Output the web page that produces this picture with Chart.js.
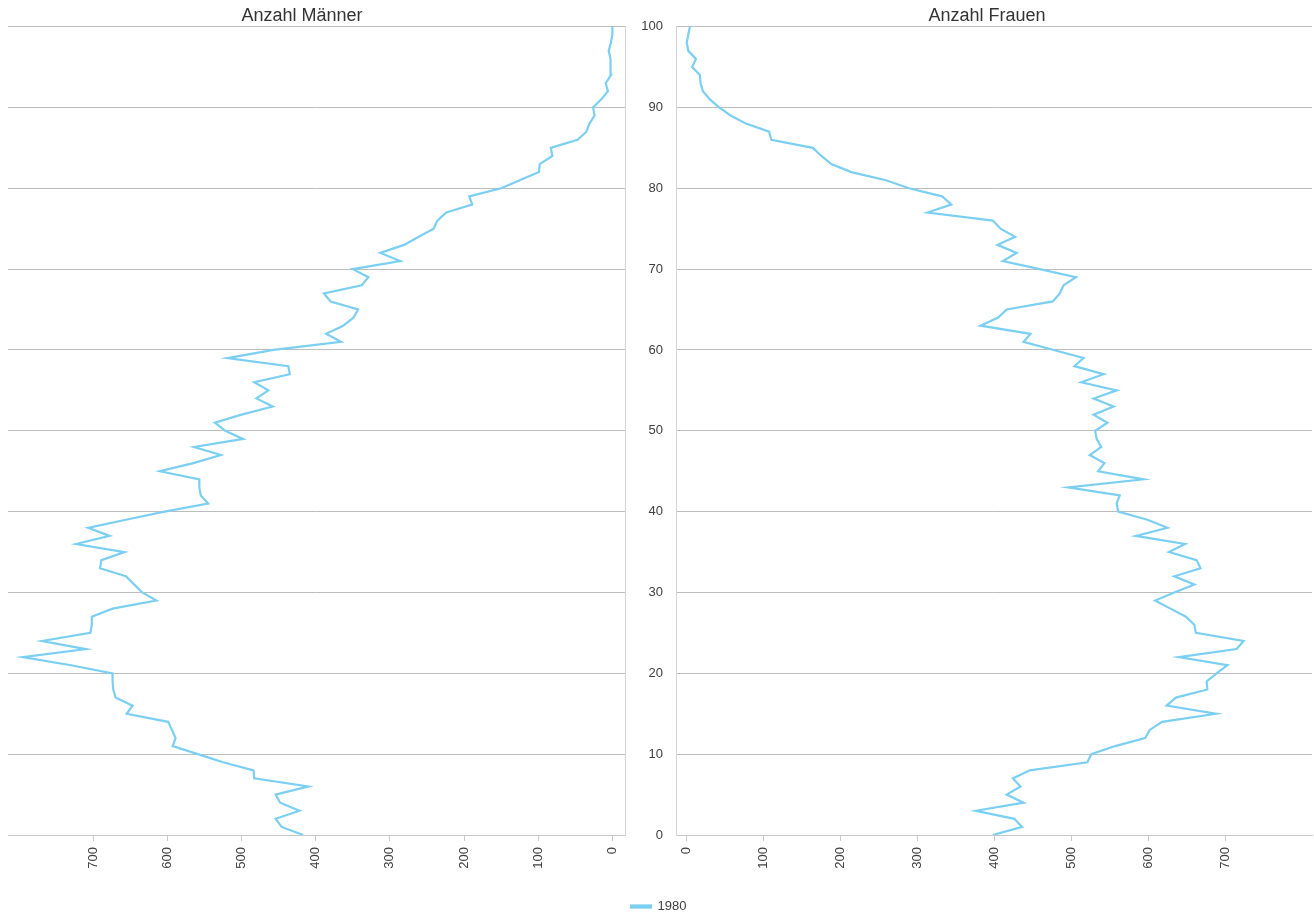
<!DOCTYPE html>
<html lang="de">
<head>
<meta charset="utf-8">
<title>Anzahl Männer und Frauen 1980</title>
<script src="https://cdn.jsdelivr.net/npm/chart.js@4/dist/chart.umd.min.js"></script>
<style>
  body { margin: 0; background: #fff; overflow: hidden; }
  #links { position: absolute; left: -21px; top: 0; }
  #rechts { position: absolute; left: 621px; top: 0; }
</style>
</head>
<body>
<canvas id="links" width="647" height="920"></canvas>
<canvas id="rechts" width="693" height="920"></canvas>
<script>
// Alter (y-Achse)
const alter = [
  0, 1, 2, 3, 4, 5, 6, 7, 8, 9, 10, 11, 12, 13, 14, 15, 16, 17, 18, 19,
  20, 21, 22, 23, 24, 25, 26, 27, 28, 29, 30, 31, 32, 33, 34, 35, 36, 37, 38, 39,
  40, 41, 42, 43, 44, 45, 46, 47, 48, 49, 50, 51, 52, 53, 54, 55, 56, 57, 58, 59,
  60, 61, 62, 63, 64, 65, 66, 67, 68, 69, 70, 71, 72, 73, 74, 75, 76, 77, 78, 79,
  80, 81, 82, 83, 84, 85, 86, 87, 88, 89, 90, 91, 92, 93, 94, 95, 96, 97, 98, 99, 100
];

// Anzahl Männer 1980 je Alter
const maenner1980 = [
  417, 446, 454, 422, 448, 454, 410, 483, 484, 525,
  559, 593, 589, 594, 599, 655, 647, 670, 673, 674,
  674, 730, 795, 710, 769, 704, 702, 702, 674, 615,
  634, 645, 656, 691, 689, 658, 723, 678, 707, 656,
  604, 545, 555, 557, 557, 610, 565, 528, 564, 498,
  522, 536, 500, 458, 480, 464, 483, 435, 437, 519,
  457, 366, 386, 363, 349, 343, 380, 389, 338, 329,
  350, 286, 313, 281, 261, 241, 236, 224, 189, 193,
  150, 125, 99, 98, 81, 83, 47, 35, 31, 24,
  26, 15, 6, 9, 2, 2, 3, 5, 2, 0, 0
];

// Anzahl Frauen 1980 je Alter
const frauen1980 = [
  398, 436, 426, 376, 438, 416, 434, 424, 446, 521,
  526, 557, 596, 602, 618, 688, 624, 636, 677, 676,
  689, 703, 640, 715, 724, 662, 660, 649, 629, 609,
  634, 660, 634, 668, 663, 627, 648, 584, 625, 599,
  561, 559, 563, 496, 594, 535, 543, 524, 539, 533,
  531, 547, 529, 555, 529, 559, 513, 542, 504, 516,
  477, 438, 447, 382, 405, 416, 476, 485, 490, 506,
  459, 411, 429, 404, 427, 408, 398, 313, 344, 332,
  289, 259, 214, 188, 175, 164, 110, 107, 77, 57,
  42, 30, 21, 18, 17, 7, 12, 2, 0, 2, 4
];

const xTicks = [0, 100, 200, 300, 400, 500, 600, 700];
const yTicks = [0, 10, 20, 30, 40, 50, 60, 70, 80, 90, 100];
const jahr = '1980';

const linienFarbe = '#7acff2';
const textFarbe = '#404040';

Chart.defaults.font.family = "'Liberation Sans', Arial, sans-serif";
Chart.defaults.color = textFarbe;

function punkte(werte) {
  return werte.map((v, i) => ({ x: v, y: alter[i] }));
}

function datensatz(werte) {
  return {
    label: jahr,
    data: punkte(werte),
    borderColor: linienFarbe,
    backgroundColor: linienFarbe,
    borderWidth: 2.2,
    pointRadius: 0,
    tension: 0
  };
}

function titel(text) {
  return {
    display: true,
    text: text,
    color: '#333',
    font: { size: 18, weight: 'normal' },
    padding: { top: 5, bottom: 0 }
  };
}

// leere Achse, nur als Abstand, damit der Titel wie im Original versetzt sitzt
function randAchse(position, breite) {
  return {
    type: 'linear',
    position: position,
    min: 0,
    max: 100,
    afterFit: scale => { scale.width = breite; },
    ticks: { display: false },
    grid: { display: false },
    border: { display: false }
  };
}

function xAchse(min, max, umgekehrt, hoehe) {
  return {
    type: 'linear',
    min: min,
    max: max,
    reverse: umgekehrt,
    afterBuildTicks: scale => { scale.ticks = xTicks.map(v => ({ value: v })); },
    afterFit: scale => { scale.height = hoehe; },
    ticks: {
      autoSkip: false,
      minRotation: 90,
      maxRotation: 90,
      padding: 6,
      font: { size: 13 }
    },
    grid: { drawOnChartArea: false, tickLength: 6, color: '#c8c8c8' },
    border: { color: '#c8c8c8' }
  };
}

// Männer: Achse gespiegelt, Alter rechts ohne Beschriftung
new Chart(document.getElementById('links'), {
  type: 'line',
  data: { datasets: [datensatz(maenner1980)] },
  options: {
    responsive: false,
    animation: false,
    indexAxis: 'y',
    layout: { padding: { left: 0, right: 1, bottom: 35 } },
    plugins: {
      legend: { display: false },
      tooltip: { enabled: false },
      title: titel('Anzahl Männer')
    },
    scales: {
      x: xAchse(-17, 815, true, 50),
      y: {
        type: 'linear',
        position: 'right',
        min: 0,
        max: 100,
        afterBuildTicks: scale => { scale.ticks = yTicks.map(v => ({ value: v })); },
        afterFit: scale => { scale.width = 0; },
        ticks: { display: false },
        grid: { color: '#bdbdbd', drawTicks: false },
        border: { color: '#d4d4d4' }
      },
      rand: randAchse('left', 29)
    }
  }
});

// Frauen: Altersbeschriftung links, Legende unten
new Chart(document.getElementById('rechts'), {
  type: 'line',
  data: { datasets: [datensatz(frauen1980)] },
  options: {
    responsive: false,
    animation: false,
    indexAxis: 'y',
    layout: { padding: { left: 4, right: -35, bottom: -3 } },
    plugins: {
      legend: {
        position: 'bottom',
        align: 'start',
        labels: { boxWidth: 20, boxHeight: 2, padding: 6, font: { size: 13 }, color: textFarbe }
      },
      tooltip: { enabled: false },
      title: titel('Anzahl Frauen')
    },
    scales: {
      x: xAchse(-14, 813, false, 59),
      y: {
        type: 'linear',
        position: 'left',
        min: 0,
        max: 100,
        afterBuildTicks: scale => { scale.ticks = yTicks.map(v => ({ value: v })); },
        afterFit: scale => { scale.width = 51; },
        ticks: { padding: 13, font: { size: 13 } },
        grid: { color: '#bdbdbd', drawTicks: false },
        border: { color: '#d4d4d4' }
      },
      rand: randAchse('right', 37)
    }
  }
});
</script>
</body>
</html>
